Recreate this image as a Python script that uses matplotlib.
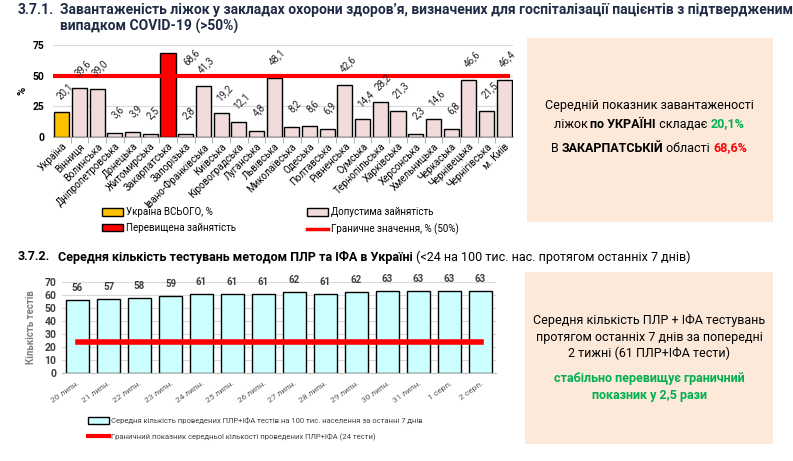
import matplotlib
matplotlib.use("Agg")
import matplotlib.pyplot as plt
from matplotlib.patches import Rectangle, Patch
from matplotlib.lines import Line2D

plt.rcParams['font.family'] = ['Roboto', 'DejaVu Sans']

W, H = 793, 461

# --- data: bed occupancy (3.7.1) ---
regions = ["Україна", "Вінниця", "Волинська", "Дніпропетровська", "Донецька",
           "Житомирська", "Закарпатська", "Запорізька", "Івано-Франківська",
           "Київська", "Кіровоградська", "Луганська", "Львівська", "Миколаївська",
           "Одеська", "Полтавська", "Рівненська", "Сумська", "Тернопільська",
           "Харківська", "Херсонська", "Хмельницька", "Черкаська", "Чернівецька",
           "Чернігівська", "м. Київ"]
occupancy = [20.1, 39.6, 39.0, 3.6, 3.9, 2.5, 68.6, 2.8, 41.3, 19.2, 12.1, 4.8,
             48.1, 8.2, 8.6, 6.9, 42.6, 14.4, 28.2, 21.3, 2.3, 14.6, 6.8, 46.6,
             21.5, 46.4]
limit_occ = 50

# --- data: PCR+ELISA tests per 100k (3.7.2) ---
dates = ["20 липн.", "21 липн.", "22 липн.", "23 липн.", "24 липн.", "25 липн.",
         "26 липн.", "27 липн.", "28 липн.", "29 липн.", "30 липн.", "31 липн.",
         "1 серп.", "2 серп."]
tests = [56, 57, 58, 59, 61, 61, 61, 62, 61, 62, 63, 63, 63, 63]
limit_tests = 24

YELLOW = "#FFC000"
PINK = "#F2DCDB"
RED = "#FF0000"
CYAN = "#CCFFFF"
GREEN = "#00B050"
PEACH = "#FDE9D9"
TITLE = "#1F2A44"


def rect(x0, y_top, x1, y_bot):
    return [x0 / W, 1 - y_bot / H, (x1 - x0) / W, (y_bot - y_top) / H]


fig = plt.figure(figsize=(W / 100, H / 100), dpi=100)
renderer = fig.canvas.get_renderer()


def rich_line(pieces, xc, y, size):
    """Draw a centred line made of (text, colour, bold) pieces. y in px from top."""
    texts = []
    for s, c, b in pieces:
        t = fig.text(0, 1 - y / H, s, color=c, fontsize=size,
                     fontweight="bold" if b else "normal", va="center", ha="left")
        texts.append(t)
    widths = [t.get_window_extent(renderer).width for t in texts]
    x = xc - sum(widths) / 2
    for t, w in zip(texts, widths):
        t.set_x(x / W)
        x += w


# titles
fig.text(18 / W, 1 - 10 / H, "3.7.1.", fontsize=10, fontweight="bold", color=TITLE, va="center")
fig.text(60 / W, 1 - 10 / H,
         "Завантаженість ліжок у закладах охорони здоров’я, визначених для госпіталізації пацієнтів з підтвердженим",
         fontsize=10, fontweight="bold", color=TITLE, va="center")
fig.text(60 / W, 1 - 26 / H, "випадком COVID-19 (>50%)",
         fontsize=10, fontweight="bold", color=TITLE, va="center")

fig.text(18 / W, 1 - 257 / H, "3.7.2.", fontsize=9, fontweight="bold",
         color="black", va="center")
t2 = fig.text(58 / W, 1 - 257 / H,
              "Середня кількість тестувань методом ПЛР та ІФА в Україні",
              fontsize=9, fontweight="bold", color="black", va="center")
w2 = t2.get_window_extent(renderer).width
fig.text((58 + w2 + 3) / W, 1 - 257 / H,
         "(<24 на 100 тис. нас. протягом останніх 7 днів)",
         fontsize=9, color="black", va="center")

# ---------------- top chart ----------------
ax = fig.add_axes(rect(53, 45, 513, 137))
x = list(range(len(regions)))
colors = []
for i, v in enumerate(occupancy):
    if i == 0:
        colors.append(YELLOW)
    elif v > limit_occ:
        colors.append(RED)
    else:
        colors.append(PINK)
ax.bar(x, occupancy, width=0.85, color=colors, edgecolor="black", linewidth=1, zorder=3)
ax.plot([x[0] - 0.45, x[-1] + 0.2], [limit_occ, limit_occ], color=RED, lw=3, zorder=4)
for xi, v in zip(x, occupancy):
    off = (17, -3) if v > 60 else (2, 15)
    ax.annotate(f"{v:.1f}".replace(".", ","), (xi, v), xytext=off,
                textcoords="offset points", rotation=45, ha="center", va="center",
                fontsize=7, color="#222222", zorder=5)
ax.set_xlim(-0.5, len(regions) - 0.5)
ax.set_ylim(0, 75)
ax.set_yticks([0, 25, 50, 75])
ax.tick_params(axis="y", labelsize=7.5, length=0, pad=6)
for lab in ax.get_yticklabels():
    lab.set_fontweight("bold")
ax.yaxis.grid(True, color="#D9D9D9", lw=0.8, zorder=0)
ax.set_xticks(x)
ax.set_xticklabels(regions, rotation=45, ha="right", rotation_mode="anchor", fontsize=7)
ax.tick_params(axis="x", length=0, pad=3)
ax.set_xticks([i + 0.5 for i in x[:-1]], minor=True)
ax.tick_params(axis="x", which="minor", length=4, color="#A6A6A6")
for s in ["top", "right", "left"]:
    ax.spines[s].set_visible(False)
ax.spines["bottom"].set_color("#A6A6A6")
ax.set_ylabel("%", fontsize=8, fontweight="bold", labelpad=4)

handles = [Patch(facecolor=YELLOW, edgecolor="black", label="Україна ВСЬОГО, %"),
           Patch(facecolor=RED, edgecolor="black", label="Перевищена зайнятість"),
           Patch(facecolor=PINK, edgecolor="black", label="Допустима зайнятість"),
           Line2D([], [], color=RED, lw=2.5, label="Граничне значення, % (50%)")]
fig.legend(handles=handles, ncol=2, loc="center left", bbox_to_anchor=(93 / W, 1 - 221 / H),
           frameon=False, fontsize=7, handlelength=2.2, handleheight=0.8,
           columnspacing=7.3, labelspacing=0.6, handletextpad=0.3)

# box 1
fig.patches.append(Rectangle((527 / W, 1 - 222 / H), (773 - 527) / W, (222 - 38) / H,
                             transform=fig.transFigure, facecolor=PEACH, edgecolor="none"))
rich_line([("Середній показник завантаженості", "black", False)], 649, 106, 9)
rich_line([("ліжок ", "black", False), ("по УКРАЇНІ", "black", True),
           (" складає ", "black", False), ("20,1%", GREEN, True)], 649, 124, 9)
rich_line([("В ", "black", False), ("ЗАКАРПАТСЬКІЙ", "black", True),
           (" області ", "black", False), ("68,6%", RED, True)], 649, 148, 9)

# ---------------- bottom chart ----------------
bx = fig.add_axes(rect(62, 282, 496, 373))
xd = list(range(len(dates)))
bx.bar(xd, tests, width=0.72, color=CYAN, edgecolor="black", linewidth=1, zorder=3)
bx.plot([xd[0], xd[-1]], [limit_tests, limit_tests], color=RED, lw=4, zorder=4)
for xi, v in zip(xd, tests):
    bx.annotate(str(v), (xi, v), xytext=(0, 5), textcoords="offset points",
                ha="center", va="bottom", fontsize=7, fontweight="bold", color="#404040")
bx.set_xlim(-0.5, len(dates) - 0.5)
bx.set_ylim(0, 70)
bx.set_yticks(range(0, 71, 10))
bx.tick_params(axis="y", labelsize=7.5, length=0, pad=4, labelcolor="#404040")
for lab in bx.get_yticklabels():
    lab.set_fontweight("bold")
bx.yaxis.grid(True, color="#D9D9D9", lw=0.8, zorder=0)
bx.set_xticks(xd)
bx.set_xticklabels(dates, rotation=35, ha="right", rotation_mode="anchor",
                   fontsize=6, color="#595959")
bx.tick_params(axis="x", length=0, pad=5)
for s in ["top", "right", "left"]:
    bx.spines[s].set_visible(False)
bx.spines["bottom"].set_color("#BFBFBF")
bx.set_ylabel("Кількість тестів", fontsize=7, fontweight="bold", color="#7F7F7F", labelpad=6)

handles2 = [Patch(facecolor=CYAN, edgecolor="black",
                  label="Середня кількість проведених ПЛР+ІФА тестів на 100 тис. населення за останні 7 днів"),
            Line2D([], [], color=RED, lw=3,
                   label="Граничний показник середньої кількості проведених ПЛР+ІФА (24 тести)")]
leg2 = fig.legend(handles=handles2, ncol=1, loc="center left",
                  bbox_to_anchor=(81 / W, 1 - 429 / H), frameon=False, fontsize=5.5,
                  handlelength=2.8, handleheight=0.9, labelspacing=1.1, handletextpad=0.2)
for t in leg2.get_texts():
    t.set_color("#404040")

# box 2
fig.patches.append(Rectangle((525 / W, 1 - 444 / H), (773 - 525) / W, (444 - 272) / H,
                             transform=fig.transFigure, facecolor=PEACH, edgecolor="none"))
rich_line([("Середня кількість ПЛР + ІФА тестувань", "black", False)], 649, 320, 9)
rich_line([("протягом останніх 7 днів за попередні", "black", False)], 649, 337, 9)
rich_line([("2 тижні (61 ПЛР+ІФА тести)", "black", False)], 649, 353, 9)
rich_line([("стабільно перевищує граничний", GREEN, True)], 649, 378, 9)
rich_line([("показник у 2,5 рази", GREEN, True)], 649, 395, 9)

fig.savefig("out.png", dpi=100)
